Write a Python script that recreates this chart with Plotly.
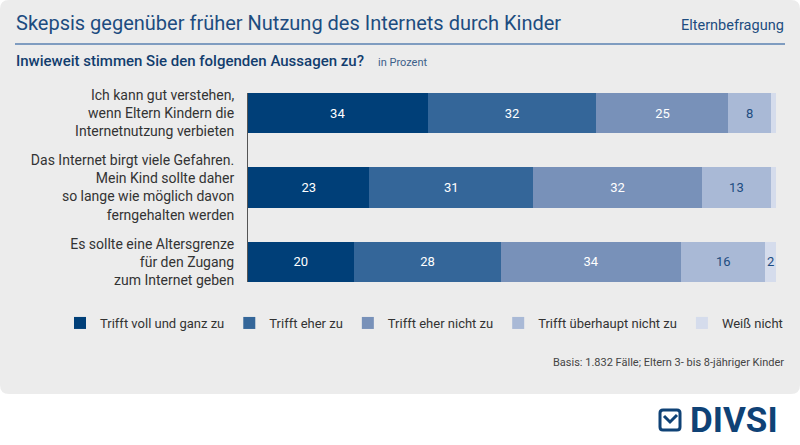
import plotly.graph_objects as go

# --- data ---------------------------------------------------------------
statements = [
    "Ich kann gut verstehen,<br>wenn Eltern Kindern die<br>Internetnutzung verbieten",
    "Das Internet birgt viele Gefahren.<br>Mein Kind sollte daher<br>so lange wie möglich davon<br>ferngehalten werden",
    "Es sollte eine Altersgrenze<br>für den Zugang<br>zum Internet geben",
]
answers = [
    "Trifft voll und ganz zu",
    "Trifft eher zu",
    "Trifft eher nicht zu",
    "Trifft überhaupt nicht zu",
    "Weiß nicht",
]
values = {
    "Trifft voll und ganz zu":   [34, 23, 20],
    "Trifft eher zu":            [32, 31, 28],
    "Trifft eher nicht zu":      [25, 32, 34],
    "Trifft überhaupt nicht zu": [8, 13, 16],
    "Weiß nicht":                [1, 1, 2],
}

colors = ["#003f78", "#346699", "#7891b9", "#a9b9d6", "#d5dcec"]
text_colors = ["white", "white", "white", "#1d4c80", "#1d4c80"]

W, H = 800, 445
# plot area in pixels
L, R, T, B = 248, 776, 93, 282


def px(x):
    return (x - L) / (R - L)


def py(y):
    return (B - y) / (B - T)


def rounded_rect(x0, y0, x1, y1, r):
    # path in paper coords built from pixel corners
    pts = [
        f"M{px(x0 + r)},{py(y0)}",
        f"L{px(x1 - r)},{py(y0)}",
        f"Q{px(x1)},{py(y0)} {px(x1)},{py(y0 + r)}",
        f"L{px(x1)},{py(y1 - r)}",
        f"Q{px(x1)},{py(y1)} {px(x1 - r)},{py(y1)}",
        f"L{px(x0 + r)},{py(y1)}",
        f"Q{px(x0)},{py(y1)} {px(x0)},{py(y1 - r)}",
        f"L{px(x0)},{py(y0 + r)}",
        f"Q{px(x0)},{py(y0)} {px(x0 + r)},{py(y0)}",
        "Z",
    ]
    return " ".join(pts)


fig = go.Figure()

for name, col, tcol in zip(answers, colors, text_colors):
    vals = values[name]
    fig.add_trace(
        go.Bar(
            y=statements,
            x=vals,
            name=name,
            orientation="h",
            width=0.54,
            marker=dict(color=col, line=dict(width=0)),
            text=[str(v) if v >= 2 else "" for v in vals],
            textposition="inside",
            insidetextanchor="middle",
            textfont=dict(color=tcol, size=13, family="Roboto"),
            hoverinfo="x+name",
        )
    )

navy = "#1d4c80"

fig.update_layout(
    width=W,
    height=H,
    barmode="stack",
    paper_bgcolor="white",
    plot_bgcolor="rgba(0,0,0,0)",
    margin=dict(l=L, r=W - R, t=T, b=H - B, pad=0),
    font=dict(family="Roboto", color="#333333", size=13),
    uniformtext=dict(minsize=13, mode="show"),
    xaxis=dict(range=[0, 100], visible=False, fixedrange=True),
    yaxis=dict(
        range=[2.27, -0.27],
        showline=True,
        linecolor="#555555",
        linewidth=1,
        showgrid=False,
        zeroline=False,
        ticks="",
        ticklabelstandoff=10,
        tickfont=dict(size=14, color="#333333"),
        fixedrange=True,
    ),
    legend=dict(
        orientation="h",
        xanchor="left",
        x=px(60),
        yanchor="middle",
        y=py(323),
        font=dict(size=13, color="#333333"),
        bgcolor="rgba(0,0,0,0)",
        traceorder="normal",
    ),
    shapes=[
        # grey panel
        dict(type="path", xref="paper", yref="paper", layer="below",
             path=rounded_rect(0, 0, 800, 394, 9),
             fillcolor="#ececec", line=dict(width=0)),
        # rule under the title
        dict(type="line", xref="paper", yref="paper",
             x0=px(15), x1=px(785), y0=py(44), y1=py(44),
             line=dict(color="#7f9cc0", width=2)),
        # logo box
        dict(type="path", xref="paper", yref="paper",
             path=rounded_rect(660, 410, 680, 430, 3),
             fillcolor="rgba(0,0,0,0)", line=dict(color="#0f4276", width=3)),
        dict(type="path", xref="paper", yref="paper",
             path=f"M{px(664)},{py(416)} L{px(670)},{py(422)} L{px(677)},{py(415)}",
             line=dict(color="#0f4276", width=3)),
    ],
    annotations=[
        dict(xref="paper", yref="paper", x=px(14), y=py(23),
             xanchor="left", yanchor="middle", showarrow=False,
             text="Skepsis gegenüber früher Nutzung des Internets durch Kinder",
             font=dict(size=20, color=navy)),
        dict(xref="paper", yref="paper", x=px(786), y=py(25),
             xanchor="right", yanchor="middle", showarrow=False,
             text="Elternbefragung", font=dict(size=14.5, color=navy)),
        dict(xref="paper", yref="paper", x=px(14), y=py(61),
             xanchor="left", yanchor="middle", showarrow=False,
             text="Inwieweit stimmen Sie den folgenden Aussagen zu?",
             font=dict(size=15, color="#123d6e", weight=500)),
        dict(xref="paper", yref="paper", x=px(376), y=py(62),
             xanchor="left", yanchor="middle", showarrow=False,
             text="in Prozent", font=dict(size=11, color="#3d5f8a")),
        dict(xref="paper", yref="paper", x=px(786), y=py(362),
             xanchor="right", yanchor="middle", showarrow=False,
             text="Basis: 1.832 Fälle; Eltern 3- bis 8-jähriger Kinder",
             font=dict(size=11, color="#444444")),
        dict(xref="paper", yref="paper", x=px(780), y=py(420),
             xanchor="right", yanchor="middle", showarrow=False,
             text="DIVSI", font=dict(size=35, color="#0f4276", weight="bold")),
    ],
)

fig.write_html(
    "out.html",
    config={"displayModeBar": False},
    post_script="document.body.style.margin='0';",
)
